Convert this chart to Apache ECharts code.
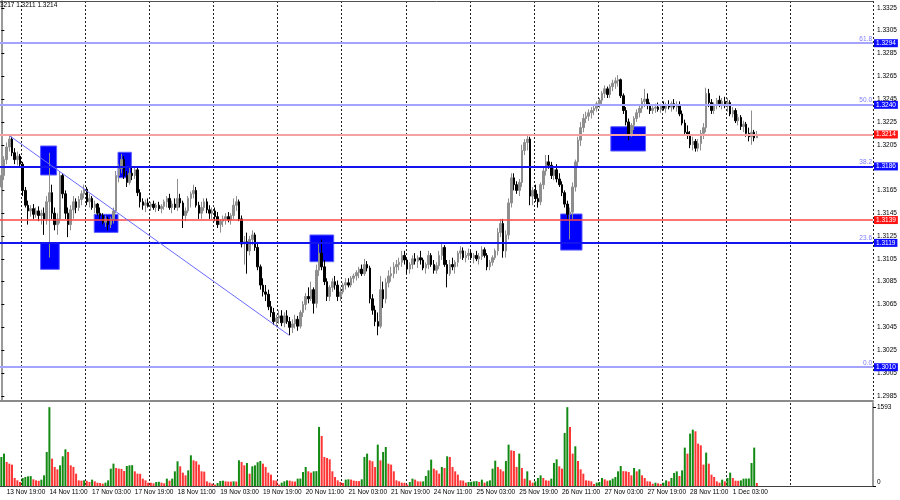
<!DOCTYPE html>
<html><head><meta charset="utf-8">
<script src="https://cdn.jsdelivr.net/npm/echarts@6/dist/echarts.min.js"></script>
<style>html,body{margin:0;padding:0;background:#fff}#c{width:900px;height:500px}</style>
</head><body><div id="c"></div>
<script>
// ---------- DATA (H1 bars, 13 Nov 17:00 .. 1 Dec 12:00) ----------
const openP = [
1.3168,1.3178,1.3192,1.3203,1.3210,1.3198,1.3192,1.3195,1.3188,1.3165,
1.3152,1.3147,1.3149,1.3144,1.3147,1.3143,1.3145,1.3140,1.3155,1.3163,
1.3145,1.3135,1.3140,1.3178,1.3162,1.3145,1.3135,1.3148,1.3155,1.3150,
1.3157,1.3162,1.3166,1.3155,1.3158,1.3150,1.3153,1.3145,1.3143,1.3137,
1.3140,1.3135,1.3140,1.3147,1.3178,1.3184,1.3192,1.3178,1.3172,1.3180,
1.3178,1.3183,1.3163,1.3155,1.3152,1.3154,1.3151,1.3153,1.3150,1.3152,
1.3149,1.3151,1.3155,1.3158,1.3150,1.3153,1.3150,1.3158,1.3154,1.3143,
1.3147,1.3158,1.3162,1.3165,1.3152,1.3145,1.3150,1.3155,1.3148,1.3145,
1.3147,1.3142,1.3135,1.3138,1.3140,1.3142,1.3139,1.3143,1.3152,1.3155,
1.3140,1.3118,1.3120,1.3112,1.3122,1.3126,1.3115,1.3098,1.3082,1.3076,
1.3074,1.3063,1.3058,1.3050,1.3053,1.3055,1.3049,1.3055,1.3050,1.3045,
1.3048,1.3052,1.3046,1.3058,1.3065,1.3072,1.3070,1.3078,1.3066,1.3095,
1.3110,1.3098,1.3085,1.3072,1.3080,1.3085,1.3082,1.3072,1.3076,1.3082,
1.3084,1.3082,1.3088,1.3090,1.3093,1.3096,1.3092,1.3100,1.3097,1.3070,
1.3060,1.3050,1.3046,1.3078,1.3070,1.3084,1.3090,1.3092,1.3098,1.3100,
1.3102,1.3108,1.3104,1.3096,1.3100,1.3105,1.3103,1.3106,1.3104,1.3097,
1.3100,1.3108,1.3100,1.3095,1.3099,1.3108,1.3115,1.3100,1.3092,1.3100,
1.3098,1.3102,1.3110,1.3112,1.3106,1.3108,1.3110,1.3106,1.3108,1.3105,
1.3107,1.3113,1.3108,1.3098,1.3102,1.3106,1.3112,1.3128,1.3136,1.3112,
1.3126,1.3154,1.3176,1.3170,1.3165,1.3172,1.3200,1.3207,1.3210,1.3160,
1.3165,1.3158,1.3155,1.3170,1.3182,1.3190,1.3187,1.3178,1.3183,1.3175,
1.3170,1.3163,1.3153,1.3144,1.3146,1.3168,1.3190,1.3209,1.3220,1.3228,
1.3230,1.3233,1.3235,1.3237,1.3241,1.3244,1.3250,1.3254,1.3249,1.3256,
1.3259,1.3261,1.3262,1.3248,1.3235,1.3225,1.3214,1.3222,1.3228,1.3233,
1.3237,1.3243,1.3245,1.3240,1.3235,1.3237,1.3238,1.3236,1.3239,1.3237,
1.3240,1.3238,1.3241,1.3238,1.3240,1.3232,1.3224,1.3216,1.3214,1.3205,
1.3208,1.3202,1.3206,1.3215,1.3220,1.3250,1.3242,1.3235,1.3240,1.3244,
1.3241,1.3243,1.3239,1.3242,1.3232,1.3235,1.3226,1.3229,1.3221,1.3223,
1.3215,1.3212,1.3216,1.3211];
const highP = [
1.3184,1.3195,1.3207,1.3213,1.3212,1.3202,1.3199,1.3197,1.3190,1.3168,
1.3156,1.3152,1.3153,1.3150,1.3151,1.3148,1.3150,1.3160,1.3198,1.3170,
1.3150,1.3145,1.3182,1.3180,1.3165,1.3150,1.3152,1.3160,1.3158,1.3160,
1.3165,1.3170,1.3168,1.3162,1.3160,1.3156,1.3154,1.3150,1.3145,1.3143,
1.3142,1.3142,1.3150,1.3182,1.3188,1.3197,1.3195,1.3182,1.3185,1.3186,
1.3186,1.3185,1.3166,1.3158,1.3157,1.3158,1.3155,1.3156,1.3154,1.3155,
1.3153,1.3157,1.3160,1.3162,1.3156,1.3158,1.3175,1.3162,1.3156,1.3150,
1.3160,1.3164,1.3170,1.3168,1.3155,1.3155,1.3158,1.3158,1.3152,1.3150,
1.3150,1.3146,1.3140,1.3143,1.3145,1.3146,1.3145,1.3158,1.3160,1.3157,
1.3143,1.3125,1.3128,1.3125,1.3130,1.3128,1.3118,1.3100,1.3088,1.3082,
1.3078,1.3068,1.3062,1.3056,1.3060,1.3060,1.3058,1.3060,1.3054,1.3052,
1.3056,1.3055,1.3060,1.3068,1.3075,1.3080,1.3085,1.3080,1.3100,1.3118,
1.3122,1.3104,1.3088,1.3082,1.3088,1.3090,1.3086,1.3080,1.3084,1.3088,
1.3088,1.3090,1.3092,1.3095,1.3098,1.3100,1.3105,1.3103,1.3099,1.3074,
1.3064,1.3058,1.3090,1.3085,1.3088,1.3095,1.3098,1.3102,1.3104,1.3106,
1.3112,1.3112,1.3106,1.3102,1.3108,1.3110,1.3108,1.3112,1.3106,1.3102,
1.3112,1.3110,1.3104,1.3102,1.3112,1.3118,1.3117,1.3104,1.3104,1.3106,
1.3104,1.3112,1.3116,1.3115,1.3112,1.3114,1.3113,1.3110,1.3112,1.3110,
1.3116,1.3115,1.3110,1.3104,1.3108,1.3114,1.3132,1.3140,1.3140,1.3130,
1.3158,1.3180,1.3180,1.3173,1.3175,1.3205,1.3210,1.3213,1.3212,1.3168,
1.3170,1.3162,1.3172,1.3185,1.3196,1.3196,1.3190,1.3186,1.3188,1.3180,
1.3173,1.3165,1.3156,1.3150,1.3172,1.3192,1.3212,1.3225,1.3232,1.3234,
1.3236,1.3238,1.3240,1.3243,1.3246,1.3252,1.3257,1.3256,1.3258,1.3262,
1.3264,1.3266,1.3263,1.3250,1.3238,1.3228,1.3224,1.3230,1.3236,1.3240,
1.3246,1.3254,1.3250,1.3242,1.3240,1.3241,1.3242,1.3241,1.3243,1.3242,
1.3244,1.3243,1.3245,1.3243,1.3243,1.3235,1.3227,1.3222,1.3217,1.3212,
1.3210,1.3210,1.3218,1.3224,1.3255,1.3254,1.3245,1.3242,1.3246,1.3248,
1.3246,1.3247,1.3246,1.3244,1.3238,1.3237,1.3232,1.3231,1.3226,1.3225,
1.3220,1.3235,1.3218,1.3217];
const lowP = [
1.3160,1.3174,1.3188,1.3199,1.3195,1.3188,1.3187,1.3185,1.3160,1.3150,
1.3135,1.3142,1.3140,1.3141,1.3138,1.3135,1.3126,1.3135,1.3106,1.3140,
1.3130,1.3126,1.3136,1.3158,1.3140,1.3124,1.3130,1.3140,1.3145,1.3147,
1.3152,1.3158,1.3152,1.3150,1.3148,1.3145,1.3143,1.3140,1.3135,1.3133,
1.3130,1.3132,1.3136,1.3145,1.3172,1.3180,1.3175,1.3168,1.3170,1.3174,
1.3175,1.3160,1.3150,1.3148,1.3146,1.3150,1.3147,1.3148,1.3146,1.3147,
1.3145,1.3148,1.3150,1.3148,1.3145,1.3148,1.3147,1.3150,1.3132,1.3138,
1.3145,1.3150,1.3158,1.3150,1.3140,1.3140,1.3147,1.3145,1.3140,1.3140,
1.3138,1.3132,1.3128,1.3133,1.3135,1.3137,1.3135,1.3140,1.3147,1.3138,
1.3115,1.3100,1.3092,1.3108,1.3117,1.3112,1.3095,1.3078,1.3072,1.3068,
1.3060,1.3054,1.3047,1.3045,1.3048,1.3046,1.3045,1.3048,1.3038,1.3040,
1.3044,1.3042,1.3044,1.3054,1.3060,1.3066,1.3068,1.3057,1.3062,1.3090,
1.3095,1.3082,1.3068,1.3068,1.3076,1.3078,1.3068,1.3068,1.3074,1.3078,
1.3080,1.3080,1.3084,1.3086,1.3088,1.3090,1.3090,1.3094,1.3066,1.3056,
1.3046,1.3038,1.3044,1.3062,1.3066,1.3080,1.3085,1.3088,1.3092,1.3095,
1.3098,1.3100,1.3092,1.3092,1.3096,1.3100,1.3097,1.3100,1.3095,1.3092,
1.3096,1.3098,1.3092,1.3092,1.3096,1.3104,1.3098,1.3080,1.3090,1.3095,
1.3092,1.3098,1.3105,1.3104,1.3102,1.3104,1.3104,1.3101,1.3103,1.3100,
1.3104,1.3106,1.3095,1.3095,1.3099,1.3104,1.3108,1.3124,1.3106,1.3106,
1.3122,1.3150,1.3165,1.3162,1.3160,1.3168,1.3196,1.3200,1.3152,1.3152,
1.3155,1.3150,1.3152,1.3166,1.3178,1.3184,1.3175,1.3174,1.3172,1.3168,
1.3160,1.3150,1.3140,1.3122,1.3140,1.3164,1.3186,1.3204,1.3216,1.3224,
1.3226,1.3228,1.3231,1.3234,1.3237,1.3240,1.3246,1.3246,1.3246,1.3252,
1.3254,1.3256,1.3246,1.3232,1.3222,1.3209,1.3212,1.3218,1.3225,1.3229,
1.3233,1.3238,1.3236,1.3232,1.3232,1.3233,1.3234,1.3233,1.3235,1.3233,
1.3236,1.3234,1.3236,1.3234,1.3230,1.3222,1.3214,1.3210,1.3202,1.3200,
1.3199,1.3199,1.3200,1.3210,1.3216,1.3238,1.3232,1.3232,1.3236,1.3238,
1.3236,1.3237,1.3234,1.3230,1.3229,1.3224,1.3222,1.3218,1.3216,1.3212,
1.3208,1.3205,1.3208,1.3211];
const closeP = [
1.3178,1.3192,1.3203,1.3210,1.3198,1.3192,1.3195,1.3188,1.3165,1.3152,
1.3147,1.3149,1.3144,1.3147,1.3143,1.3145,1.3140,1.3155,1.3163,1.3145,
1.3135,1.3140,1.3178,1.3162,1.3145,1.3135,1.3148,1.3155,1.3150,1.3157,
1.3162,1.3166,1.3155,1.3158,1.3150,1.3153,1.3145,1.3143,1.3137,1.3140,
1.3135,1.3140,1.3147,1.3178,1.3184,1.3192,1.3178,1.3172,1.3180,1.3178,
1.3183,1.3163,1.3155,1.3152,1.3154,1.3151,1.3153,1.3150,1.3152,1.3149,
1.3151,1.3155,1.3158,1.3150,1.3153,1.3150,1.3158,1.3154,1.3143,1.3147,
1.3158,1.3162,1.3165,1.3152,1.3145,1.3150,1.3155,1.3148,1.3145,1.3147,
1.3142,1.3135,1.3138,1.3140,1.3142,1.3139,1.3143,1.3152,1.3155,1.3140,
1.3118,1.3120,1.3112,1.3122,1.3126,1.3115,1.3098,1.3082,1.3076,1.3074,
1.3063,1.3058,1.3050,1.3053,1.3055,1.3049,1.3055,1.3050,1.3045,1.3048,
1.3052,1.3046,1.3058,1.3065,1.3072,1.3070,1.3078,1.3066,1.3095,1.3110,
1.3098,1.3085,1.3072,1.3080,1.3085,1.3082,1.3072,1.3076,1.3082,1.3084,
1.3082,1.3088,1.3090,1.3093,1.3096,1.3092,1.3100,1.3097,1.3070,1.3060,
1.3050,1.3046,1.3078,1.3070,1.3084,1.3090,1.3092,1.3098,1.3100,1.3102,
1.3108,1.3104,1.3096,1.3100,1.3105,1.3103,1.3106,1.3104,1.3097,1.3100,
1.3108,1.3100,1.3095,1.3099,1.3108,1.3115,1.3100,1.3092,1.3100,1.3098,
1.3102,1.3110,1.3112,1.3106,1.3108,1.3110,1.3106,1.3108,1.3105,1.3107,
1.3113,1.3108,1.3098,1.3102,1.3106,1.3112,1.3128,1.3136,1.3112,1.3126,
1.3154,1.3176,1.3170,1.3165,1.3172,1.3200,1.3207,1.3210,1.3160,1.3165,
1.3158,1.3155,1.3170,1.3182,1.3190,1.3187,1.3178,1.3183,1.3175,1.3170,
1.3163,1.3153,1.3144,1.3146,1.3168,1.3190,1.3209,1.3220,1.3228,1.3230,
1.3233,1.3235,1.3237,1.3241,1.3244,1.3250,1.3254,1.3249,1.3256,1.3259,
1.3261,1.3262,1.3248,1.3235,1.3225,1.3214,1.3222,1.3228,1.3233,1.3237,
1.3243,1.3245,1.3240,1.3235,1.3237,1.3238,1.3236,1.3239,1.3237,1.3240,
1.3238,1.3241,1.3238,1.3240,1.3232,1.3224,1.3216,1.3214,1.3205,1.3208,
1.3202,1.3206,1.3215,1.3220,1.3250,1.3242,1.3235,1.3240,1.3244,1.3241,
1.3243,1.3239,1.3242,1.3232,1.3235,1.3226,1.3229,1.3221,1.3223,1.3215,
1.3212,1.3216,1.3211,1.3214];
const volumes = [
585,653,485,451,431,162,114,81,162,182,
195,200,135,114,105,128,215,686,1590,552,
384,337,417,599,740,686,417,384,249,114,
108,115,105,81,128,94,67,61,47,67,
114,350,451,363,350,345,303,404,417,420,
296,249,245,148,114,67,65,54,81,85,
67,54,148,108,148,296,498,397,269,215,
316,619,518,498,431,296,290,94,67,47,
27,61,101,108,94,90,88,94,90,518,
485,417,464,249,397,417,480,505,451,384,
269,229,114,110,27,67,94,114,108,94,
90,148,150,283,384,296,269,296,300,1191,
1010,585,565,538,296,182,114,81,61,128,
135,130,108,101,98,135,585,653,518,498,
384,834,518,686,787,451,431,296,114,94,
67,65,27,81,148,128,94,90,94,202,
316,532,350,316,249,384,363,599,585,384,
296,229,114,110,67,81,85,94,98,81,
128,67,94,114,350,511,384,337,296,505,
834,720,707,384,653,363,148,296,114,67,
94,162,215,162,114,108,148,464,538,397,
350,1070,1590,1191,653,801,505,337,249,114,
108,94,40,67,81,162,135,108,114,148,
182,296,404,300,296,283,215,363,296,337,
215,162,94,90,47,67,54,40,67,114,
94,162,263,296,202,316,774,653,1057,1137,
1104,855,821,431,673,451,229,182,94,67,
128,94,162,269,162,108,105,114,148,150,
152,464,774,61];
const timeLabels = ['13 Nov 19:00','14 Nov 11:00','17 Nov 03:00','17 Nov 19:00','18 Nov 11:00',
  '19 Nov 03:00','19 Nov 19:00','20 Nov 11:00','21 Nov 03:00','21 Nov 19:00','24 Nov 11:00',
  '25 Nov 03:00','25 Nov 19:00','26 Nov 11:00','27 Nov 03:00','27 Nov 19:00','28 Nov 11:00','1 Dec 03:00'];
const firstLabelBar = 2, labelStep = 16;
const priceTicks = [1.2985,1.3005,1.3025,1.3045,1.3065,1.3085,1.3105,1.3125,1.3145,1.3165,
  1.3185,1.3205,1.3225,1.3245,1.3265,1.3285,1.3305,1.3325];
const volumeTicks = [0, 1593];
const levelPrices = [1.3294, 1.3240, 1.3214, 1.3186, 1.3139, 1.3119, 1.3010];
const levelFib    = ['61.8', '50.0', '', '38.2', '', '23.6', '0.0'];
const levelKinds  = ['fibFar','fibFar','red','fibNear','redStrong','fibNear','fibFar'];
const trendLine = [[3.25, 1.32126], [107.7, 1.30382]];
// rectangles: [barFrom, barTo, priceTop, priceBottom]
const boxes = [
  [14.7, 20.7, 1.32039, 1.31785],
  [14.7, 21.7, 1.31186, 1.30958],
  [34.8, 43.7, 1.31440, 1.31282],
  [43.7, 48.7, 1.31984, 1.31761],
  [115.6, 124.5, 1.31259, 1.31025],
  [209.5, 217.5, 1.31443, 1.31127],
  [228.3, 241.3, 1.32208, 1.31995]
];
const headerText = '1.3217 1.3211 1.3214';

// ---------- CHART ----------
const FONT = 'Liberation Sans';
const FS = 6.5;
const N_SLOTS = 327;
const slots = Array.from({length: N_SLOTS}, (_, i) => String(i));
const candleData = openP.map((o, i) => [o, closeP[i], lowP[i], highP[i]]);
const UP_VOL = '#138a13', DOWN_VOL = '#ff3535';
const volData = volumes.map((v, i) => ({
  value: v,
  itemStyle: {color: (i === 0 || v >= volumes[i - 1]) ? UP_VOL : DOWN_VOL}
}));
const levelStyle = {
  fibFar:    {line: '#a4a4ff', width: 2,   box: '#0c0cff'},
  fibNear:   {line: '#1414ee', width: 2,   box: '#0c0cff'},
  red:       {line: '#f4a2a2', width: 2,   box: '#ff1414'},
  redStrong: {line: '#ff4444', width: 1.5, box: '#ff1414'}
};
const lineMarks = [];
levelPrices.forEach((p, i) => {
  const st = levelStyle[levelKinds[i]];
  lineMarks.push({
    yAxis: p,
    lineStyle: {color: st.line, width: st.width, type: 'solid'},
    label: {show: true, position: 'end', formatter: p.toFixed(4), backgroundColor: st.box,
      color: '#fff', padding: [1, 2, 0, 2], fontSize: FS, fontFamily: FONT, distance: 1}
  });
});
const fibMarks = [];
levelPrices.forEach((p, i) => {
  if (!levelFib[i]) return;
  fibMarks.push({
    yAxis: p,
    lineStyle: {color: 'rgba(0,0,0,0)', width: 0},
    label: {show: true, position: 'insideEndTop', formatter: levelFib[i], color: '#7c7cff',
      fontSize: FS, fontFamily: FONT, distance: 1, opacity: 1}
  });
});
lineMarks.push([
  {coord: trendLine[0], lineStyle: {color: '#6a6aff', width: 1, type: 'solid'}, label: {show: false}},
  {coord: trendLine[1]}
]);

const gridSplit = (idx) => idx >= 8 && idx <= 296 && (idx - 8) % 24 === 0;
const dashed = {show: true, interval: gridSplit, lineStyle: {color: '#222', width: 1, type: [2, 2]}};

const option = {
  animation: false,
  backgroundColor: '#ffffff',
  textStyle: {fontFamily: FONT},
  grid: [
    {left: 0, right: 27, top: 1, bottom: 99},
    {left: 0, right: 27, top: 403, bottom: 14}
  ],
  xAxis: [
    {type: 'category', gridIndex: 0, data: slots, boundaryGap: true,
      axisLine: {show: true, lineStyle: {color: '#8a8a8a', width: 2}},
      axisTick: {show: false}, axisLabel: {show: false}, splitLine: dashed},
    {type: 'category', gridIndex: 1, data: slots, boundaryGap: true,
      axisLine: {show: true, lineStyle: {color: '#404040', width: 1}},
      axisTick: {show: false},
      axisLabel: {show: true, interval: (idx) => idx >= firstLabelBar && (idx - firstLabelBar) % labelStep === 0 && (idx - firstLabelBar) / labelStep < timeLabels.length,
        formatter: (val, idx) => timeLabels[(idx - firstLabelBar) / labelStep] || '',
        align: 'left', margin: 3, fontSize: FS, color: '#000', fontFamily: FONT},
      splitLine: dashed},
    {type: 'value', gridIndex: 0, position: 'top', min: -0.5, max: N_SLOTS - 0.5,
      axisLine: {show: true, onZero: false, lineStyle: {color: '#505050', width: 1}},
      axisTick: {show: false}, axisLabel: {show: false}, splitLine: {show: false}}
  ],
  yAxis: [
    {type: 'value', gridIndex: 0, position: 'right', min: 1.29804, max: 1.33310,
      axisLine: {show: true, lineStyle: {color: '#9a9a9a', width: 2}},
      axisTick: {show: true, customValues: priceTicks, length: 3, lineStyle: {color: '#000'}},
      axisLabel: {show: true, customValues: priceTicks, formatter: (v) => v.toFixed(4),
        fontSize: FS, color: '#000', margin: 4, fontFamily: FONT},
      splitLine: {show: false}},
    {type: 'value', gridIndex: 1, position: 'right', min: 0, max: 1674,
      axisLine: {show: true, lineStyle: {color: '#9a9a9a', width: 2}},
      axisTick: {show: true, customValues: volumeTicks, length: 3, lineStyle: {color: '#000'}},
      axisLabel: {show: true, customValues: volumeTicks,
        formatter: (v) => v === 0 ? '{z|0}' : String(v),
        rich: {z: {padding: [0, 0, 8, 0], fontSize: FS, color: '#000', fontFamily: FONT}},
        fontSize: FS, color: '#000', margin: 4, fontFamily: FONT},
      splitLine: {show: false}}
  ],
  graphic: [
    {type: 'text', left: -5.5, top: 2, z: 100,
      style: {text: headerText, fontSize: FS, fill: '#000', fontFamily: FONT}}
  ],
  series: [
    {type: 'line', name: 'boxes', xAxisIndex: 2, yAxisIndex: 0, data: [], z: 1, silent: true,
      markArea: {silent: true,
        itemStyle: {color: '#0000ff', borderColor: '#5a5aff', borderWidth: 1, opacity: 1},
        label: {show: false},
        data: boxes.map(b => [{coord: [b[0], b[2]]}, {coord: [b[1], b[3]]}])}},
    {type: 'candlestick', name: 'GBPUSD', xAxisIndex: 0, yAxisIndex: 0, data: candleData,
      barWidth: 2, z: 2,
      itemStyle: {color: '#8e8e8e', color0: '#000000', borderColor: '#8e8e8e', borderColor0: '#000000', borderWidth: 1}},
    {type: 'line', name: 'levels', xAxisIndex: 2, yAxisIndex: 0, data: [], z: 3, silent: true,
      markLine: {silent: true, symbol: ['none', 'none'], precision: 6, animation: false, data: lineMarks}},
    {type: 'line', name: 'fibLabels', xAxisIndex: 2, yAxisIndex: 0, data: [], z: 4, silent: true,
      markLine: {silent: true, symbol: ['none', 'none'], precision: 6, animation: false, data: fibMarks}},
    {type: 'bar', name: 'Volumes', xAxisIndex: 1, yAxisIndex: 1, data: volData, barWidth: 2}
  ]
};
const chart = echarts.init(document.getElementById('c'), null, {renderer: 'canvas', width: 900, height: 500});
chart.setOption(option);
</script>
</body></html>
